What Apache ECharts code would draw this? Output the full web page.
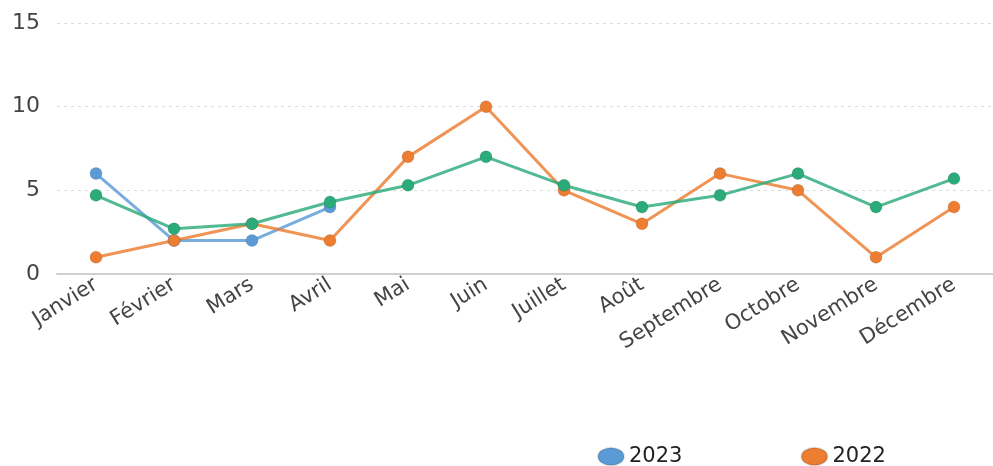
<!DOCTYPE html>
<html>
<head>
<meta charset="utf-8">
<script src="https://cdn.jsdelivr.net/npm/echarts@6/dist/echarts.min.js"></script>
<style>
  html, body { margin: 0; padding: 0; background: #fff; }
  #chart { width: 993px; height: 466px; }
</style>
</head>
<body>
<div id="chart"></div>
<script>
// data
var months = ['Janvier', 'Février', 'Mars', 'Avril', 'Mai', 'Juin', 'Juillet', 'Août', 'Septembre', 'Octobre', 'Novembre', 'Décembre'];
var values2023 = [6, 2, 2, 4, null, null, null, null, null, null, null, null];
var values2022 = [1, 2, 3, 2, 7, 10, 5, 3, 6, 5, 1, 4];
var valuesMoyenne = [4.7, 2.7, 3, 4.3, 5.3, 7, 5.3, 4, 4.7, 6, 4, 5.7];
var yTicks = [0, 5, 10, 15];

var chart = echarts.init(document.getElementById('chart'));

// flat ellipse for the legend keys
var ellipse = 'path://M0,34 A50,34 0 1,1 100,34 A50,34 0 1,1 0,34 Z';

function lineSeries(name, data, color) {
    return {
        name: name,
        type: 'line',
        data: data,
        symbol: 'circle',
        symbolSize: 12,
        connectNulls: false,
        lineStyle: { width: 3, color: color, opacity: 0.82 },
        itemStyle: { color: color, borderColor: 'rgba(0,0,0,0.12)', borderWidth: 1 }
    };
}

var option = {
    animation: false,
    textStyle: { fontFamily: 'DejaVu Sans' },
    grid: { left: 57, right: -3, top: 23, bottom: 192 },
    legend: {
        left: 592,
        top: 441,
        width: 1200,
        itemGap: 118,
        itemWidth: 26,
        itemHeight: 18,
        icon: ellipse,
        textStyle: { fontSize: 21, color: '#222', fontFamily: 'DejaVu Sans' },
        data: ['2023', '2022', 'Moyenne']
    },
    xAxis: {
        type: 'category',
        data: months,
        boundaryGap: true,
        axisLine: { lineStyle: { color: '#cfcfcf', width: 2 } },
        axisTick: { alignWithLabel: true, length: 6, lineStyle: { color: '#cfcfcf' } },
        axisLabel: { rotate: 32, fontSize: 21, color: '#444', margin: 9, interval: 0 }
    },
    yAxis: {
        type: 'value',
        min: yTicks[0],
        max: yTicks[yTicks.length - 1],
        interval: 5,
        axisLine: { show: false },
        axisTick: { show: false },
        axisLabel: { fontSize: 22, color: '#444', margin: 17 },
        splitLine: { lineStyle: { color: '#dcdcdc', type: [3, 4] } }
    },
    series: [
        lineSeries('2023', values2023, '#5b9bd5'),
        lineSeries('2022', values2022, '#ed7d31'),
        lineSeries('Moyenne', valuesMoyenne, '#2bab7a')
    ]
};

chart.setOption(option);
</script>
</body>
</html>
